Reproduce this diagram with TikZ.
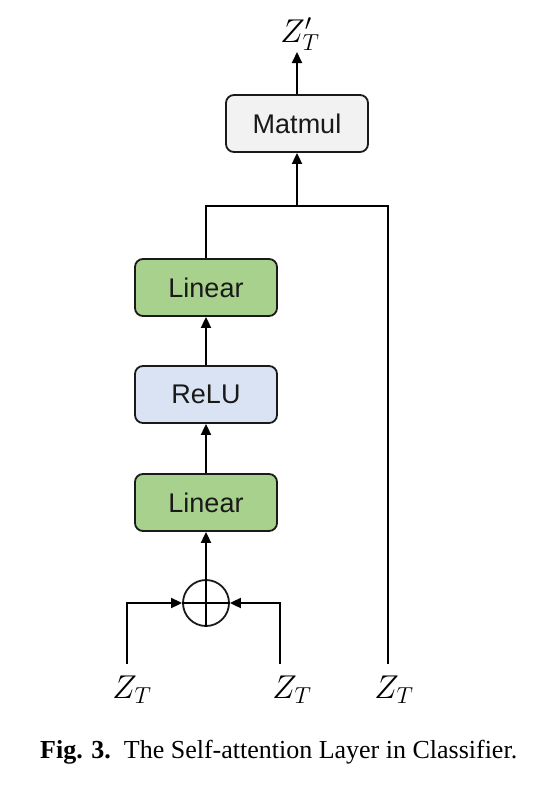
\RequirePackage{fix-cm}
\documentclass[tikz,border=0pt]{standalone}
\usepackage{fontspec}
\setsansfont{Liberation Sans}
\setmainfont{Liberation Serif}
\usetikzlibrary{arrows.meta}
\definecolor{lingreen}{HTML}{A9D18E}
\definecolor{relublue}{HTML}{DAE3F3}
\definecolor{matgray}{HTML}{F2F2F2}
\definecolor{edge}{HTML}{1A1A1A}
\tikzset{
  blk/.style={draw=edge, line width=1.8pt, rounded corners=8pt, minimum width=142pt, minimum height=57pt, inner sep=0pt, font=\sffamily\fontsize{27}{32}\selectfont, text=black!90},
  conn/.style={line width=1.8pt, draw=black},
  arr/.style={conn, -{Triangle[length=11pt,width=10pt]}},
  lab/.style={inner sep=0pt, font=\fontsize{33}{36}\selectfont}
}
\begin{document}
\begin{tikzpicture}[x=1pt,y=-1pt]
\useasboundingbox (0,0) rectangle (533,790);
% blocks
\node[blk, fill=matgray] (matmul) at (297,123.5) {Matmul};
\node[blk, fill=lingreen] (lin2) at (206,287.5) {Linear};
\node[blk, fill=relublue] (relu) at (206,394.5) {ReLU};
\node[blk, fill=lingreen] (lin1) at (206,502.5) {Linear};
\node[draw=edge, line width=1.8pt, circle, minimum size=46pt, inner sep=0pt] (add) at (206,603) {};
\draw[conn] (add.north) -- (add.south) (add.west) -- (add.east);
% labels
\node[lab] (zout) at (300,34) {$Z'_T$};
\node[lab] (za) at (132,690) {$Z_T$};
\node[lab] (zb) at (292,690) {$Z_T$};
\node[lab] (zc) at (394,690) {$Z_T$};
% coordinates
\coordinate (ea) at (127,664);
\coordinate (eb) at (280,664);
\coordinate (ec) at (388,664);
\coordinate (top) at (297,52);
\coordinate (jn) at (297,206);
% connectors
\draw[arr] (matmul.north) -- (top);
\draw[arr] (jn) -- (matmul.south);
\draw[conn] (lin2.north) |- (jn) -| (ec);
\draw[arr] (relu.north) -- (lin2.south);
\draw[arr] (lin1.north) -- (relu.south);
\draw[arr] (add.north) -- (lin1.south);
\draw[arr] (ea) |- (add.west);
\draw[arr] (eb) |- (add.east);
% caption
\node[inner sep=0pt, anchor=west] (cap) at (40,752) {\resizebox{477pt}{!}{\textbf{Fig. 3.}\enspace The Self-attention Layer in Classifier.}};
\end{tikzpicture}
\end{document}
